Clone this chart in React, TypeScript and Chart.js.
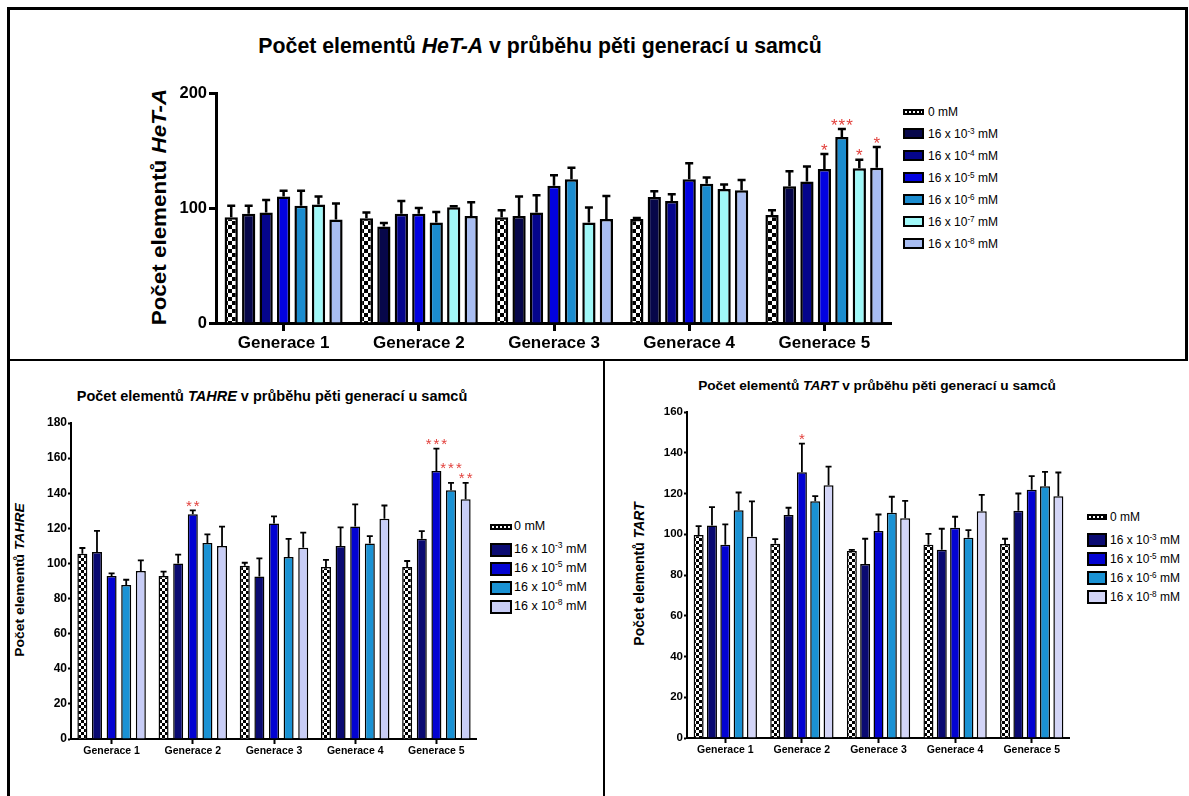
import React, { useEffect, useRef } from 'react';
import { Chart, registerables } from 'chart.js';

Chart.register(...registerables);

const FONT = "'Liberation Sans', Arial, Helvetica, sans-serif";
Chart.defaults.font.family = FONT;

// ---------- shared categories ----------
const generations = ['Generace 1', 'Generace 2', 'Generace 3', 'Generace 4', 'Generace 5'];

// ---------- HeT-A (top chart) ----------
const hetaExponents = [null, -3, -4, -5, -6, -7, -8];
const heta0 = [92, 91, 92, 90.4, 94];
const heta0Err = [10, 5, 6, 1, 4];
const hetaE3 = [95, 84, 93, 109.6, 119];
const hetaE3Err = [7, 3, 17, 5, 13];
const hetaE4 = [96, 95, 96, 106, 123];
const hetaE4Err = [11, 11, 15, 6, 13];
const hetaE5 = [110, 95, 119.4, 125, 134];
const hetaE5Err = [5, 5, 9, 14, 13];
const hetaE6 = [102, 87.5, 125, 121, 161.7];
const hetaE6Err = [13, 9, 10, 5.5, 7];
const hetaE7 = [103, 100.6, 87.5, 116.5, 134.5];
const hetaE7Err = [7, 1, 13, 4, 7.5];
const hetaE8 = [90, 93, 90.4, 115.4, 135];
const hetaE8Err = [14, 12, 20, 9, 18];
const hetaE5Stars = ['', '', '', '', '*'];
const hetaE6Stars = ['', '', '', '', '***'];
const hetaE7Stars = ['', '', '', '', '*'];
const hetaE8Stars = ['', '', '', '', '*'];
const hetaTicks = [0, 100, 200];

// ---------- TAHRE (bottom left) ----------
const tahreExponents = [null, -3, -5, -6, -8];
const tahre0 = [105.5, 92.8, 98.7, 98, 98];
const tahre0Err = [3.3, 2.5, 1.7, 4, 3.4];
const tahreE3 = [106.5, 100, 92.5, 110, 114];
const tahreE3Err = [12, 5, 10.4, 10.6, 4.4];
const tahreE5 = [92.8, 128, 122.8, 121, 152.7];
const tahreE5Err = [1.5, 2.2, 4, 12.7, 12.7];
const tahreE6 = [87.7, 111.6, 103.6, 111.4, 141.7];
const tahreE6Err = [3, 5, 10.4, 4.2, 4.2];
const tahreE8 = [95.7, 110, 109, 125.4, 136.6];
const tahreE8Err = [6, 11, 8.6, 7.6, 9.3];
const tahreE5Stars = ['', '**', '', '', '***'];
const tahreE6Stars = ['', '', '', '', '***'];
const tahreE8Stars = ['', '', '', '', '**'];
const tahreTicks = [0, 20, 40, 60, 80, 100, 120, 140, 160, 180];

// ---------- TART (bottom right) ----------
const tartExponents = [null, -3, -5, -6, -8];
const tart0 = [99.6, 95.3, 91.8, 94.9, 95.2];
const tart0Err = [4.4, 2.3, 0.5, 5.3, 2.6];
const tartE3 = [104.3, 109.4, 85.4, 92.4, 111.5];
const tartE3Err = [9, 3.6, 12.4, 10.3, 8.5];
const tartE5 = [94.9, 130.4, 101.6, 103.2, 121.8];
const tartE5Err = [9.9, 14.1, 8.1, 5.4, 6.7];
const tartE6 = [111.8, 116.2, 110.5, 98.3, 123.6];
const tartE6Err = [8.7, 2.5, 7.9, 3.7, 7];
const tartE8 = [98.8, 124, 107.9, 111.3, 118.7];
const tartE8Err = [17.3, 9.2, 8.5, 8, 11.6];
const tartE5Stars = ['', '*', '', '', ''];
const tartTicks = [0, 20, 40, 60, 80, 100, 120, 140, 160];

const noStars = ['', '', '', '', ''];

type Series = { values: number[]; errors: number[]; stars: string[] };

const hetaSeries: Series[] = [
  { values: heta0, errors: heta0Err, stars: noStars },
  { values: hetaE3, errors: hetaE3Err, stars: noStars },
  { values: hetaE4, errors: hetaE4Err, stars: noStars },
  { values: hetaE5, errors: hetaE5Err, stars: hetaE5Stars },
  { values: hetaE6, errors: hetaE6Err, stars: hetaE6Stars },
  { values: hetaE7, errors: hetaE7Err, stars: hetaE7Stars },
  { values: hetaE8, errors: hetaE8Err, stars: hetaE8Stars },
];
const tahreSeries: Series[] = [
  { values: tahre0, errors: tahre0Err, stars: noStars },
  { values: tahreE3, errors: tahreE3Err, stars: noStars },
  { values: tahreE5, errors: tahreE5Err, stars: tahreE5Stars },
  { values: tahreE6, errors: tahreE6Err, stars: tahreE6Stars },
  { values: tahreE8, errors: tahreE8Err, stars: tahreE8Stars },
];
const tartSeries: Series[] = [
  { values: tart0, errors: tart0Err, stars: noStars },
  { values: tartE3, errors: tartE3Err, stars: noStars },
  { values: tartE5, errors: tartE5Err, stars: tartE5Stars },
  { values: tartE6, errors: tartE6Err, stars: noStars },
  { values: tartE8, errors: tartE8Err, stars: noStars },
];

const hetaColors = ['checker', '#07074a', '#05058c', '#0202e0', '#1b8ccf', '#a0f8f8', '#a8bdf2'];
const tahreColors = ['checker', '#0a0a72', '#0303d2', '#1a92d4', '#c8cdf6'];
const tartColors = ['checker', '#0a0a72', '#0303d2', '#1a92d4', '#d3d5f7'];

type Look = {
  yMax: number;
  ticks: number[];
  yAxisWidth: number;
  xAxisHeight: number;
  padTop: number;
  yFont: number;
  xFont: number;
  axisWidth: number;
  yTickLen: number;
  yPad: number;
  xTickLen: number;
  xPad: number;
  barBorder: number;
  catPct: number;
  barPct: number;
  checker: number;
  errWidth: number;
  cap: number;
  starSize: number;
  starGap: number;
  starSpacing: number;
};

const errorBarPlugin = {
  id: 'errorBars',
  afterDatasetsDraw(chart: any, _args: any, opts: any) {
    const ctx = chart.ctx as CanvasRenderingContext2D;
    const yScale = chart.scales.y;
    const stars: { x: number; yTop: number; text: string; ds: number }[] = [];
    chart.data.datasets.forEach((ds: any, i: number) => {
      const meta = chart.getDatasetMeta(i);
      meta.data.forEach((bar: any, j: number) => {
        const v = ds.data[j];
        const e = ds.errors[j];
        const yTop = yScale.getPixelForValue(v + e);
        ctx.save();
        ctx.strokeStyle = '#000';
        ctx.lineWidth = opts.width;
        ctx.beginPath();
        ctx.moveTo(bar.x, bar.y);
        ctx.lineTo(bar.x, yTop);
        ctx.moveTo(bar.x - opts.cap / 2, yTop);
        ctx.lineTo(bar.x + opts.cap / 2, yTop);
        ctx.stroke();
        ctx.restore();
        if (ds.stars[j]) stars.push({ x: bar.x, yTop, text: ds.stars[j], ds: i });
      });
    });
    // significance marks: place from the right-most series, lifting any that would collide
    stars.sort((a, b) => b.ds - a.ds);
    ctx.save();
    ctx.fillStyle = '#e2403c';
    ctx.font = `${opts.starSize}px ${FONT}`;
    ctx.textAlign = 'center';
    ctx.textBaseline = 'alphabetic';
    (ctx as any).letterSpacing = `${opts.starSpacing}px`;
    const placed: { x: number; cy: number; w: number }[] = [];
    const h = opts.starSize * 0.7;
    for (const st of stars) {
      const w = ctx.measureText(st.text).width;
      let cy = st.yTop - opts.starGap;
      let moved = true;
      let guard = 0;
      while (moved && guard < 20) {
        moved = false;
        guard++;
        for (const p of placed) {
          if (Math.abs(p.x - st.x) < (p.w + w) / 2 && Math.abs(p.cy - cy) < h) {
            cy = p.cy - h;
            moved = true;
          }
        }
      }
      placed.push({ x: st.x, cy, w });
      ctx.fillText(st.text, st.x + opts.starSpacing / 2, cy + 0.57 * opts.starSize);
    }
    ctx.restore();
  },
};

function makePattern(ctx: CanvasRenderingContext2D, s: number) {
  const c = document.createElement('canvas');
  c.width = s * 2;
  c.height = s * 2;
  const g = c.getContext('2d')!;
  g.fillStyle = '#fff';
  g.fillRect(0, 0, s * 2, s * 2);
  g.fillStyle = '#000';
  g.fillRect(0, 0, s, s);
  g.fillRect(s, s, s, s);
  return ctx.createPattern(c, 'repeat')!;
}

function BarChart(props: {
  series: Series[];
  colors: string[];
  look: Look;
  left: number;
  top: number;
  width: number;
  height: number;
}) {
  const ref = useRef<HTMLCanvasElement>(null);
  const { series, colors, look, left, top, width, height } = props;
  useEffect(() => {
    const canvas = ref.current!;
    const ctx = canvas.getContext('2d')!;
    const pattern = makePattern(ctx, look.checker);
    const chart = new Chart(ctx, {
      type: 'bar',
      data: {
        labels: generations,
        datasets: series.map((s, i) => ({
          data: s.values,
          errors: s.errors,
          stars: s.stars,
          backgroundColor: colors[i] === 'checker' ? pattern : colors[i],
          borderColor: '#000',
          borderWidth: look.barBorder,
          categoryPercentage: look.catPct,
          barPercentage: look.barPct,
        })) as any,
      },
      options: {
        responsive: false,
        animation: false,
        devicePixelRatio: 1,
        layout: { padding: { top: look.padTop, left: 0, right: 0, bottom: 0 } },
        plugins: {
          legend: { display: false },
          tooltip: { enabled: false },
          title: { display: false },
          errorBars: {
            width: look.errWidth,
            cap: look.cap,
            starSize: look.starSize,
            starGap: look.starGap,
            starSpacing: look.starSpacing,
          },
        } as any,
        scales: {
          x: {
            type: 'category',
            grid: {
              offset: false,
              drawOnChartArea: false,
              drawTicks: true,
              tickLength: look.xTickLen,
              tickWidth: look.axisWidth,
              tickColor: '#000',
              color: '#000',
            },
            border: { display: true, color: '#000', width: look.axisWidth },
            ticks: {
              color: '#000',
              font: { size: look.xFont, weight: 'bold', family: FONT },
              padding: look.xPad,
              autoSkip: false,
              maxRotation: 0,
              minRotation: 0,
            },
            afterFit: (scale: any) => {
              scale.height = look.xAxisHeight;
            },
          },
          y: {
            min: 0,
            max: look.yMax,
            afterBuildTicks: (scale: any) => {
              scale.ticks = look.ticks.map((v) => ({ value: v }));
            },
            grid: {
              drawOnChartArea: false,
              drawTicks: true,
              tickLength: look.yTickLen,
              tickWidth: look.axisWidth,
              tickColor: '#000',
              color: '#000',
            },
            border: { display: true, color: '#000', width: look.axisWidth },
            ticks: {
              color: '#000',
              font: { size: look.yFont, weight: 'bold', family: FONT },
              padding: look.yPad,
            },
            afterFit: (scale: any) => {
              scale.width = look.yAxisWidth;
            },
          },
        } as any,
      },
      plugins: [errorBarPlugin as any],
    });
    return () => chart.destroy();
  }, []);
  return (
    <canvas
      ref={ref}
      width={width}
      height={height}
      style={{ position: 'absolute', left, top, width, height }}
    />
  );
}

function LegendLabel({ exp }: { exp: number | null }) {
  if (exp === null) return <span>0 mM</span>;
  return (
    <span>
      16 x 10
      <sup style={{ fontSize: '0.68em', verticalAlign: '0.55em', lineHeight: 0 }}>{exp}</sup> mM
    </span>
  );
}

function Legend(props: {
  exps: (number | null)[];
  colors: string[];
  left: number;
  firstCenter: number;
  nextCenter: number;
  spacing: number;
  boxW: number;
  boxH: number;
  checkerH: number;
  gap: number;
  fontSize: number;
  border: number;
  checkerSize: number;
}) {
  const p = props;
  return (
    <>
      {p.exps.map((e, i) => {
        const center = i === 0 ? p.firstCenter : p.nextCenter + (i - 1) * p.spacing;
        const isChecker = p.colors[i] === 'checker';
        return (
          <div
            key={i}
            style={{
              position: 'absolute',
              left: p.left,
              top: center - 10,
              height: 20,
              display: 'flex',
              alignItems: 'center',
              whiteSpace: 'nowrap',
              fontFamily: FONT,
              fontSize: p.fontSize,
              lineHeight: 1,
              color: '#000',
            }}
          >
            <div
              style={{
                width: p.boxW,
                height: isChecker ? p.checkerH : p.boxH,
                boxSizing: 'border-box',
                border: `${p.border}px solid #000`,
                background: isChecker
                  ? `repeating-conic-gradient(#000 0% 25%, #fff 0% 50%) 0 0 / ${p.checkerSize * 2}px ${p.checkerSize * 2}px`
                  : p.colors[i],
                marginRight: p.gap,
                flex: 'none',
              }}
            />
            <LegendLabel exp={e} />
          </div>
        );
      })}
    </>
  );
}

function Title(props: { cx: number; baseline: number; size: number; scaleX: number; children: React.ReactNode }) {
  const { cx, baseline, size, scaleX, children } = props;
  return (
    <div
      style={{
        position: 'absolute',
        left: cx,
        top: baseline - 0.846 * size,
        fontFamily: FONT,
        fontWeight: 'bold',
        fontSize: size,
        lineHeight: `${size}px`,
        whiteSpace: 'nowrap',
        color: '#000',
        transform: `translateX(-50%) scaleX(${scaleX})`,
      }}
    >
      {children}
    </div>
  );
}

function VTitle(props: { cx: number; cy: number; size: number; scale: number; children: React.ReactNode }) {
  const { cx, cy, size, scale, children } = props;
  return (
    <div
      style={{
        position: 'absolute',
        left: cx,
        top: cy,
        fontFamily: FONT,
        fontWeight: 'bold',
        fontSize: size,
        lineHeight: `${size}px`,
        whiteSpace: 'nowrap',
        color: '#000',
        transform: `translate(-50%, -50%) rotate(-90deg) scaleX(${scale})`,
      }}
    >
      {children}
    </div>
  );
}

const line = (left: number, top: number, width: number, height: number): React.CSSProperties => ({
  position: 'absolute',
  left,
  top,
  width,
  height,
  background: '#000',
});

const hetaLook: Look = {
  yMax: 200,
  ticks: hetaTicks,
  yAxisWidth: 116,
  xAxisHeight: 36,
  padTop: 20,
  yFont: 16.5,
  xFont: 17,
  axisWidth: 3,
  yTickLen: 7,
  yPad: 2,
  xTickLen: 8,
  xPad: 2,
  barBorder: 2.5,
  catPct: 0.904,
  barPct: 0.76,
  checker: 4,
  errWidth: 2.5,
  cap: 8,
  starSize: 17,
  starGap: 8,
  starSpacing: 1,
};

const tahreLook: Look = {
  yMax: 180,
  ticks: tahreTicks,
  yAxisWidth: 50,
  xAxisHeight: 25,
  padTop: 15,
  yFont: 12,
  xFont: 10.5,
  axisWidth: 2,
  yTickLen: 3,
  yPad: 1,
  xTickLen: 5,
  xPad: 1,
  barBorder: 1.5,
  catPct: 0.9,
  barPct: 0.685,
  checker: 3,
  errWidth: 1.8,
  cap: 6,
  starSize: 15,
  starGap: 8,
  starSpacing: 2,
};

const tartLook: Look = {
  ...tahreLook,
  yMax: 160,
  ticks: tartTicks,
  yAxisWidth: 45,
  yFont: 11.5,
  catPct: 0.87,
  barPct: 0.75,
};

export default function App() {
  return (
    <div
      style={{
        position: 'fixed',
        left: 0,
        top: 0,
        width: 1189,
        height: 796,
        background: '#fff',
        overflow: 'hidden',
      }}
    >
      {/* frame */}
      <div style={line(7, 7, 1181, 3)} />
      <div style={line(7, 7, 3, 789)} />
      <div style={line(1185, 7, 3, 353)} />
      <div style={line(7, 359, 1181, 2)} />
      <div style={line(603, 360, 2, 436)} />

      {/* top chart */}
      <Title cx={540} baseline={54} size={21.3} scaleX={1}>
        Počet elementů <i>HeT-A</i> v průběhu pěti generací u samců
      </Title>
      <VTitle cx={158.5} cy={207} size={20} scale={1.12}>
        Počet elementů <i>HeT-A</i>
      </VTitle>
      <BarChart series={hetaSeries} colors={hetaColors} look={hetaLook} left={100} top={73} width={792} height={286} />
      <Legend
        exps={hetaExponents}
        colors={hetaColors}
        left={903}
        firstCenter={112}
        nextCenter={133.5}
        spacing={22}
        boxW={21}
        boxH={11}
        checkerH={6}
        gap={4}
        fontSize={12}
        border={2}
        checkerSize={2}
      />

      {/* TAHRE */}
      <Title cx={272} baseline={401} size={14.5} scaleX={1}>
        Počet elementů <i>TAHRE</i> v průběhu pěti generací u samců
      </Title>
      <VTitle cx={20} cy={580} size={13.5} scale={1.03}>
        Počet elementů <i>TAHRE</i>
      </VTitle>
      <BarChart series={tahreSeries} colors={tahreColors} look={tahreLook} left={21} top={408} width={456} height={356} />
      <Legend
        exps={tahreExponents}
        colors={tahreColors}
        left={490}
        firstCenter={526.7}
        nextCenter={549.7}
        spacing={19}
        boxW={22}
        boxH={14}
        checkerH={6}
        gap={2}
        fontSize={12.5}
        border={2}
        checkerSize={2}
      />

      {/* TART */}
      <Title cx={877} baseline={391} size={13.7} scaleX={1}>
        Počet elementů <i>TART</i> v průběhu pěti generací u samců
      </Title>
      <VTitle cx={639} cy={574} size={14} scale={1}>
        Počet elementů <i>TART</i>
      </VTitle>
      <BarChart series={tartSeries} colors={tartColors} look={tartLook} left={642} top={397} width={428} height={366} />
      <Legend
        exps={tartExponents}
        colors={tartColors}
        left={1087}
        firstCenter={516.7}
        nextCenter={540}
        spacing={19}
        boxW={20}
        boxH={14}
        checkerH={6}
        gap={3}
        fontSize={12}
        border={2}
        checkerSize={2}
      />
    </div>
  );
}
